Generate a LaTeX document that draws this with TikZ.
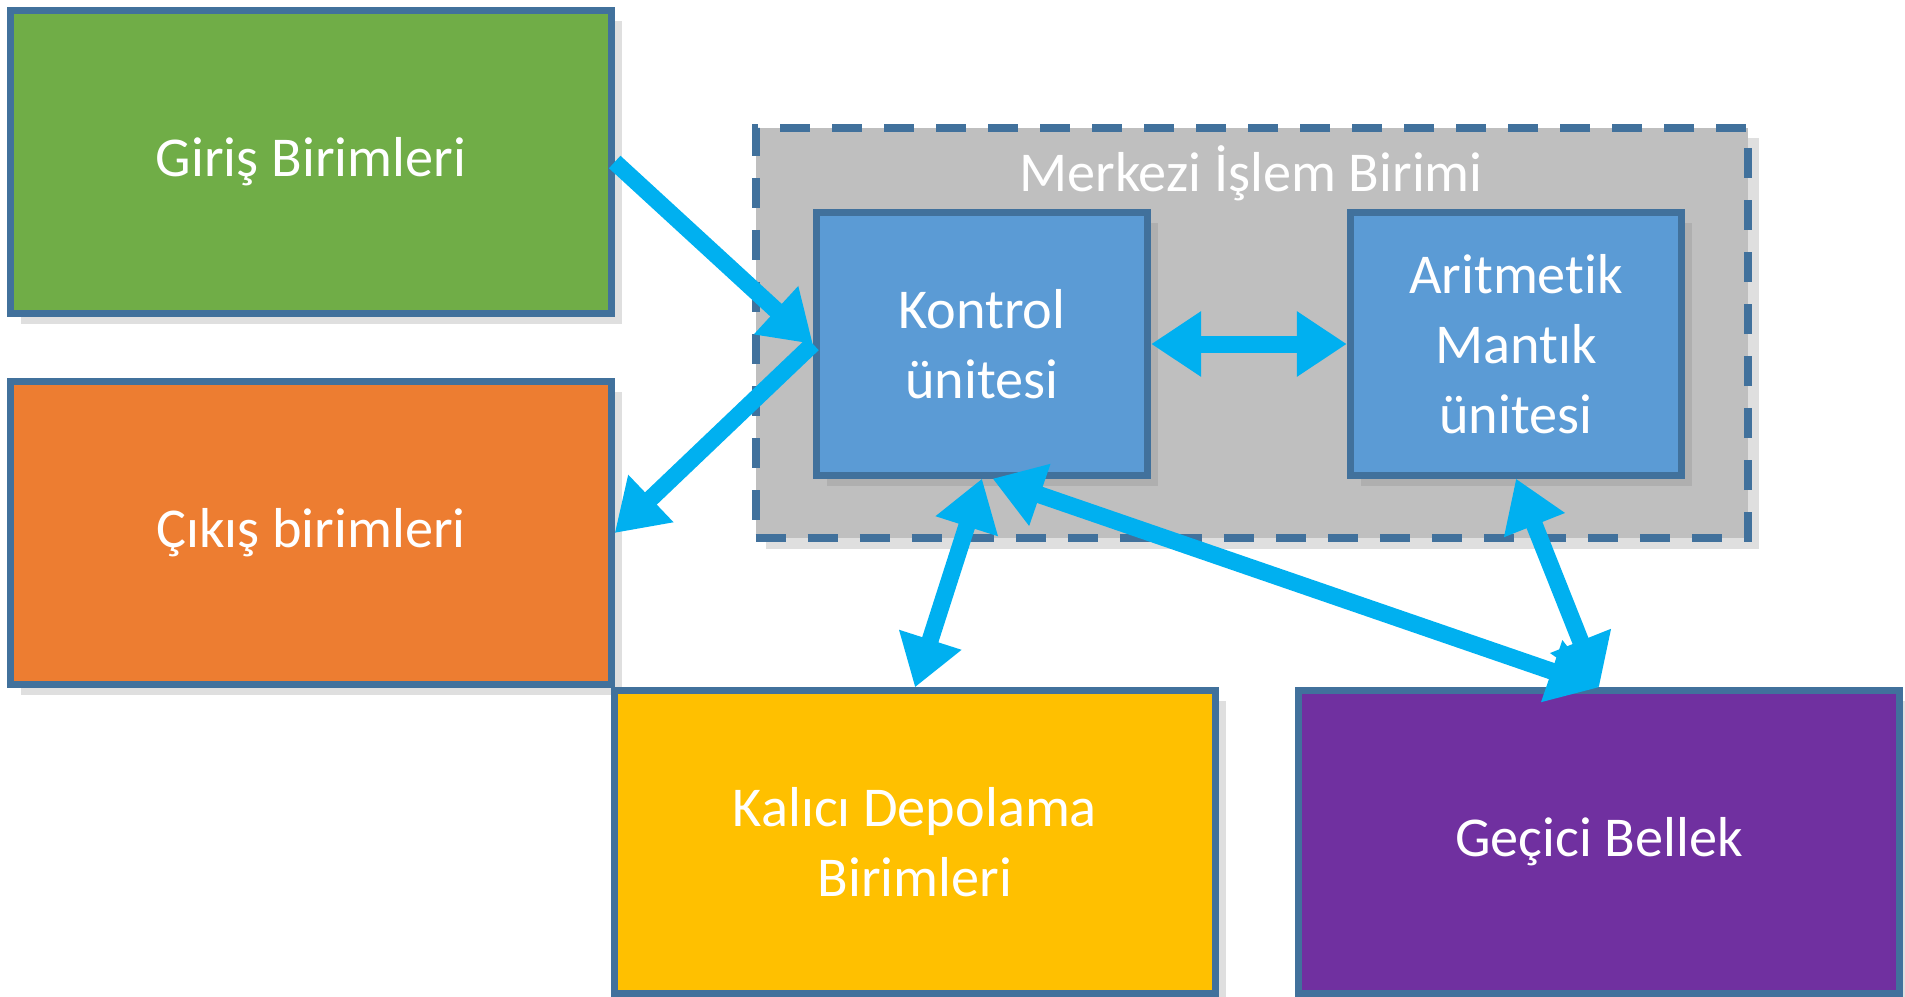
\documentclass[tikz,border=0pt]{standalone}
\usepackage{fontspec}
\setmainfont[Ligatures=NoCommon]{Carlito}
\usetikzlibrary{arrows.meta,shadows}
\definecolor{bordercol}{HTML}{41719C}
\definecolor{arrowcol}{HTML}{00B0F0}
\definecolor{girisgreen}{HTML}{70AD47}
\definecolor{cikisorange}{HTML}{ED7D31}
\definecolor{kaliciyellow}{HTML}{FFC000}
\definecolor{gecicipurple}{HTML}{7030A0}
\definecolor{unitblue}{HTML}{5B9BD5}
\definecolor{cpugray}{HTML}{BFBFBF}
\begin{document}
\begin{tikzpicture}[x=.01cm,y=-.01cm,
  unitbox/.style={draw=bordercol,line width=2pt,text=white,align=center,
    font=\fontsize{16}{20}\selectfont,inner sep=0pt,
    drop shadow={opacity=.25,shadow xshift=3pt,shadow yshift=-3pt}},
  bigbox/.style={unitbox,minimum width=6cm,minimum height=3.02cm},
  smallbox/.style={unitbox,fill=unitblue,minimum width=3.31cm,minimum height=2.62cm},
  flow/.style={draw=arrowcol,line width=.17cm,-{Triangle[length=.5cm,width=.62cm]}},
  twoway/.style={flow,{Triangle[length=.5cm,width=.62cm]}-{Triangle[length=.5cm,width=.62cm]}}]
 \useasboundingbox (0,0) rectangle (1905,996);
 % CPU frame
 \node[draw=bordercol,fill=cpugray,line width=2.3pt,dash pattern=on .3cm off .22cm,
   minimum width=9.92cm,minimum height=4.1cm,
   drop shadow={opacity=.25,shadow xshift=3pt,shadow yshift=-3pt}] (cpu) at (1252,333) {};
 \node[text=white,font=\fontsize{16}{20}\selectfont] (cputitle) at (1251,173) {Merkezi İşlem Birimi};
 \node[smallbox] (kontrol) at (982,344) {Kontrol\\ünitesi};
 \node[smallbox] (alu) at (1516,344) {Aritmetik\\Mantık\\ünitesi};
 % outer units
 \node[bigbox,fill=girisgreen] (giris) at (311,162) {Giriş Birimleri};
 \node[bigbox,fill=cikisorange] (cikis) at (311,533) {Çıkış birimleri};
 \node[bigbox,fill=kaliciyellow] (kalici) at (915,842) {Kalıcı Depolama\\Birimleri};
 \node[bigbox,fill=gecicipurple] (gecici) at (1599,842) {Geçici Bellek};
 % connections
 \draw[flow] (giris.east) -- (kontrol.west);
 \draw[flow] (kontrol.west) -- (cikis.east);
 \draw[twoway] (kontrol.east) -- (alu.west);
 \draw[twoway] (kontrol.south) -- (kalici.north);
 \draw[twoway] ([xshift=3pt]kontrol.south) -- (gecici.north);
 \draw[twoway] (alu.south) -- (gecici.north);
\end{tikzpicture}
\end{document}
